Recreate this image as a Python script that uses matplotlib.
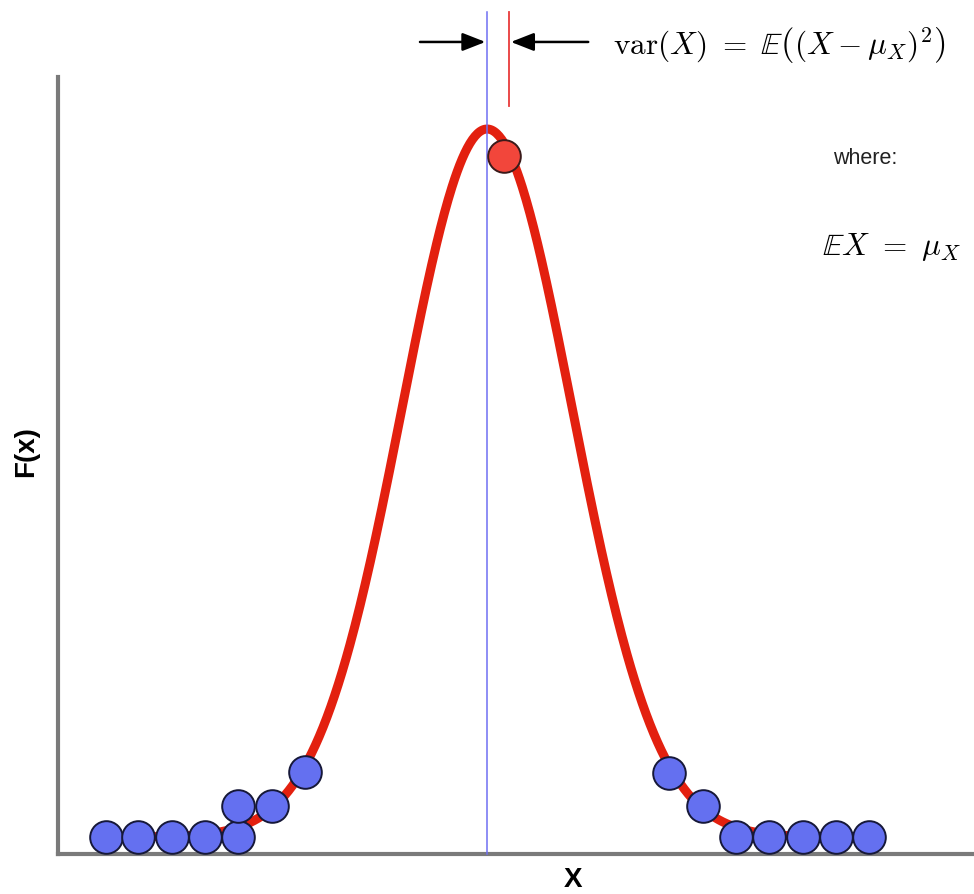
import numpy as np
import matplotlib.pyplot as plt

plt.rcParams['mathtext.fontset'] = 'cm'

# x in units of sigma, y as density height (peak = 1) above the axis
MU = 0.0
SIGMA = 1.0
BASE = 0.024

left_x = [-4.49, -4.11, -3.71, -3.32, -2.93, -2.93, -2.53, -2.14]
left_y = [0.024, 0.024, 0.024, 0.024, 0.024, 0.068, 0.068, 0.116]
right_x = [2.14, 2.54, 2.93, 3.32, 3.72, 4.11, 4.49]
right_y = [0.114, 0.068, 0.024, 0.024, 0.024, 0.024, 0.024]
sample_x = [0.2]
sample_y = [0.986]

fig = plt.figure(figsize=(9.74, 8.95), dpi=100)
ax = fig.add_axes([58 / 974, 40 / 895, 916 / 974, 777 / 895])
ax.set_xlim(-5.05, 5.73)
ax.set_ylim(0, 1.0975)

x = np.linspace(-4.5, 4.5, 600)
y = BASE + np.exp(-0.5 * ((x - MU) / SIGMA) ** 2)
ax.plot(x, y, color='#e3200f', lw=6.5, solid_capstyle='round', zorder=2)

# mean and sample offset markers
ax.plot([MU, MU], [0, 1.19], color='#6f6ff2', lw=1.1, clip_on=False, zorder=3)
ax.plot([0.26, 0.26], [1.056, 1.19], color='#e83a3a', lw=1.3, clip_on=False, zorder=3)

arrow = dict(arrowstyle='-|>,head_length=1.4,head_width=0.55', color='black', lw=1.8,
             shrinkA=0, shrinkB=0)
ax.annotate('', xy=(-0.02, 1.147), xytext=(-0.79, 1.147), arrowprops=arrow,
            annotation_clip=False)
ax.annotate('', xy=(0.28, 1.147), xytext=(1.19, 1.147), arrowprops=arrow,
            annotation_clip=False)

dots = dict(marker='o', ls='none', ms=23.5, mfc='#6470f0', mec='#161838', mew=1.4,
            clip_on=False, zorder=4)
ax.plot(left_x, left_y, **dots)
ax.plot(right_x, right_y, **dots)
ax.plot(sample_x, sample_y, marker='o', ls='none', ms=23.5, mfc='#f2463b',
        mec='#3a1a1a', mew=1.4, clip_on=False, zorder=4)

for side in ['top', 'right']:
    ax.spines[side].set_visible(False)
for side in ['left', 'bottom']:
    ax.spines[side].set_color('#7a7a7a')
    ax.spines[side].set_linewidth(3)
ax.set_xticks([])
ax.set_yticks([])

label_font = dict(family='Liberation Sans', fontsize=20, fontweight='bold')
ax.set_xlabel('X', va='center', ha='center', **label_font)
ax.xaxis.set_label_coords(0.562, -0.032)
ax.set_ylabel('F(x)', va='center', ha='center', **label_font)
ax.yaxis.set_label_coords(-0.035, 0.519)

fig.text(613 / 974, 1 - 45 / 895, r'$\mathrm{var}(X)\ =\ \mathbb{E}\left((X-\mu_X)^2\right)$',
         fontsize=22.5, va='center', ha='left')
fig.text(833 / 974, 1 - 158 / 895, 'where:', family='Liberation Sans', fontsize=15.5,
         va='center', ha='left', color='#222222')
fig.text(822 / 974, 1 - 247 / 895, r'$\mathbb{E}X\ =\ \mu_X$', fontsize=22.5,
         va='center', ha='left')

fig.savefig('out.png', dpi=100)
